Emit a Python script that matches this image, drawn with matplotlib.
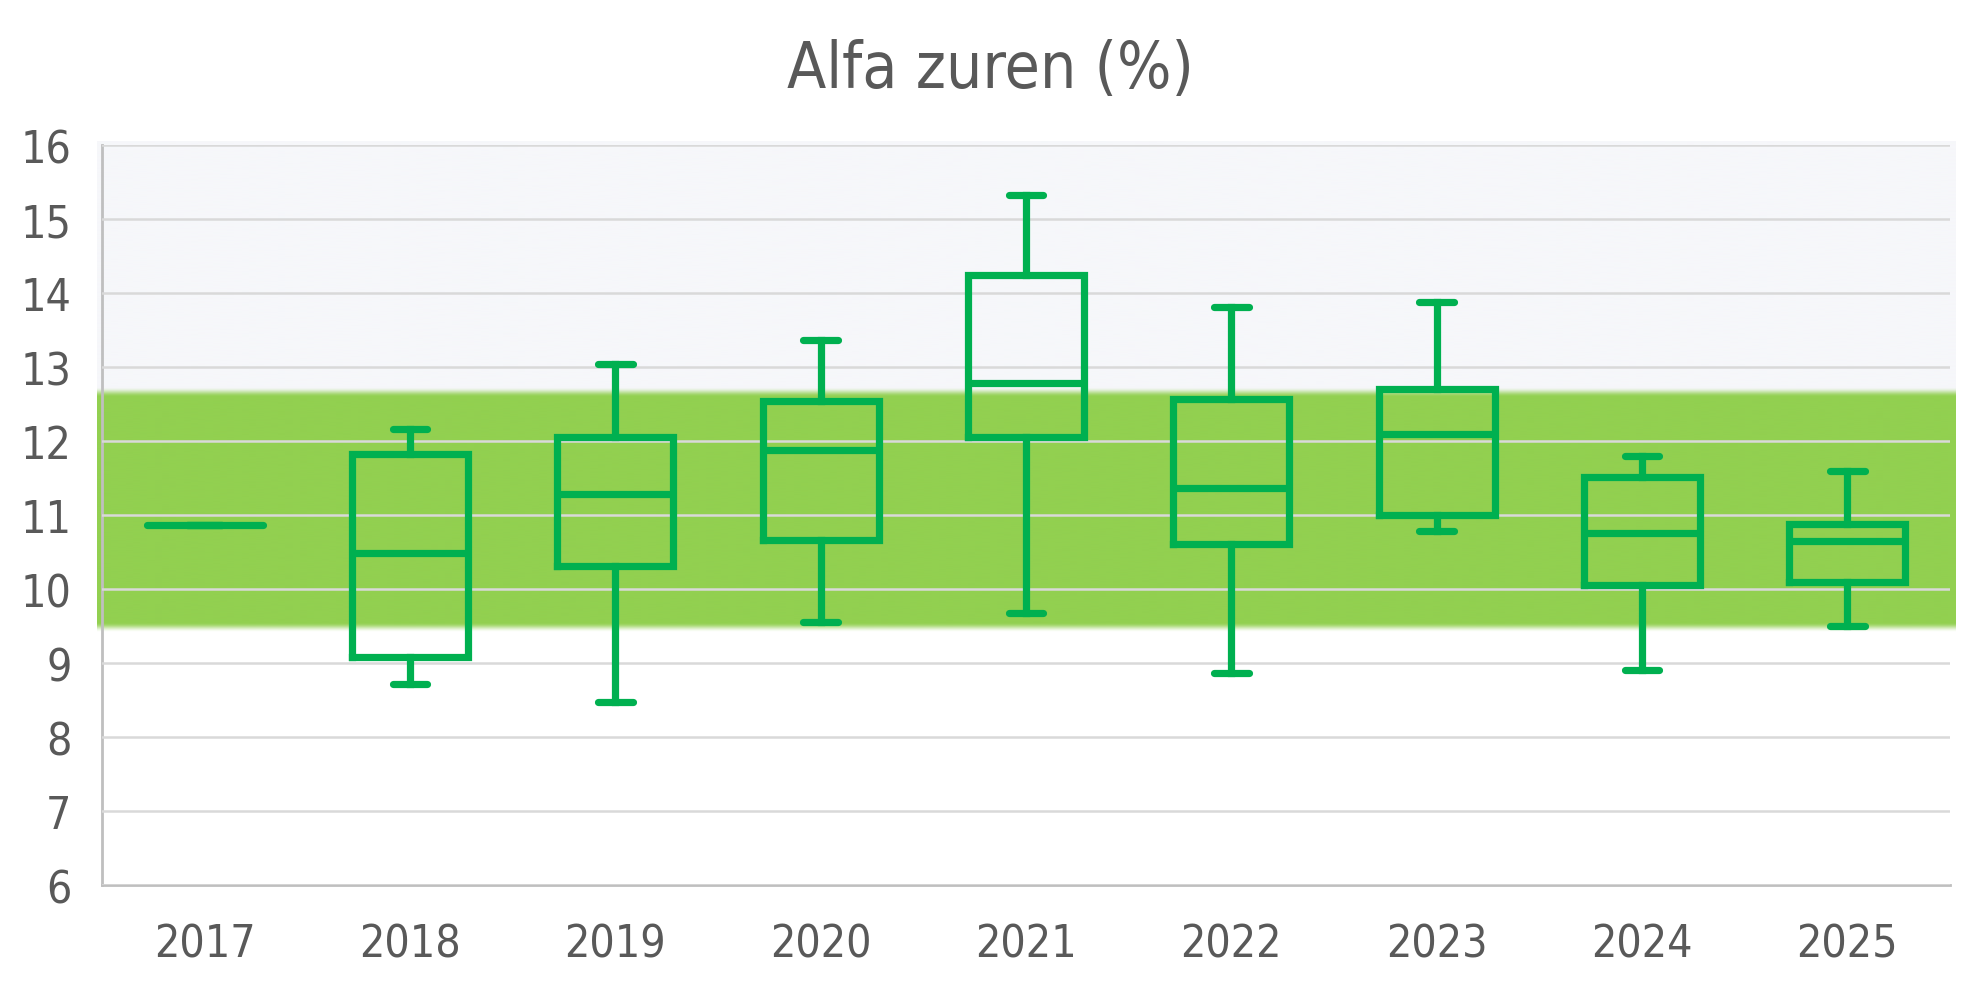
import numpy as np
import matplotlib
matplotlib.use("Agg")
import matplotlib.pyplot as plt
from matplotlib.colors import to_rgb

# ---- data ----
years = ["2017", "2018", "2019", "2020", "2021", "2022", "2023", "2024", "2025"]
whisker_low = [10.87, 8.71, 8.47, 9.56, 9.68, 8.86, 10.79, 8.91, 9.50]
q1 = [10.87, 9.08, 10.31, 10.66, 12.05, 10.61, 11.00, 10.06, 10.09]
median = [10.87, 10.49, 11.29, 11.88, 12.78, 11.37, 12.09, 10.76, 10.65]
q3 = [10.87, 11.82, 12.05, 12.54, 14.24, 12.57, 12.70, 11.51, 10.88]
whisker_high = [10.87, 12.16, 13.04, 13.36, 15.33, 13.81, 13.88, 11.80, 11.60]
band_low = 9.48
band_high = 12.66
y_ticks = [6, 7, 8, 9, 10, 11, 12, 13, 14, 15, 16]

BOX_GREEN = "#00B050"
BAND_GREEN = "#92D050"
TOP_FILL = "#F6F7FA"
TEXT = "#595959"
GRID = "#D9D9D9"
SPINE = "#BFBFBF"

fig = plt.figure(figsize=(19.81, 9.95), dpi=100)
ax = fig.add_axes([102 / 1981, 1 - 886 / 995, (1950 - 102) / 1981, (886 - 146) / 995])

# ---- background: light fill above the band, green band with soft edges ----
ys = np.linspace(6, 16.05, 3000)
fade = 0.13
def smooth(v):
    v = np.clip(v, 0, 1)
    return v * v * (3 - 2 * v)
in_top = smooth((ys - band_high) / fade + 0.5)
in_band = smooth((ys - band_low) / fade + 0.5) * (1 - in_top)
g = np.array(to_rgb(BAND_GREEN))
t = np.array(to_rgb(TOP_FILL))
rgba = np.zeros((len(ys), 1, 4))
col = in_band[:, None] * g + in_top[:, None] * t
alpha = in_band + in_top
rgba[:, 0, :3] = np.where(alpha[:, None] > 0, col / np.maximum(alpha[:, None], 1e-9), 1)
rgba[:, 0, 3] = alpha
px = 1.0 / 205.3
ax.imshow(rgba, extent=(-0.5 - 5 * px, len(years) - 0.5 + 5 * px, 6, 16.05),
          origin="lower", aspect="auto", interpolation="bilinear",
          zorder=0.1, clip_on=False)
ax.set_xlim(-0.5, len(years) - 0.5)
ax.set_ylim(6, 16)

# ---- grid & spines ----
ax.set_yticks(y_ticks)
ax.yaxis.grid(True, color=GRID, linewidth=1.8, zorder=0.5)
ax.xaxis.grid(False)
for s in ["top", "right"]:
    ax.spines[s].set_visible(False)
for s in ["left", "bottom"]:
    ax.spines[s].set_color(SPINE)
    ax.spines[s].set_linewidth(2.0)
    ax.spines[s].set_zorder(0.6)

# ---- boxes ----
stats = []
for i, y in enumerate(years):
    stats.append(dict(label=y, whislo=whisker_low[i], q1=q1[i], med=median[i],
                      q3=q3[i], whishi=whisker_high[i], fliers=[]))
lw = 5.2
parts = ax.bxp(stats, positions=list(range(len(years))), widths=0.565,
               capwidths=0.17, showfliers=False, patch_artist=False,
               boxprops=dict(color=BOX_GREEN, linewidth=lw, solid_joinstyle="miter"),
               medianprops=dict(color=BOX_GREEN, linewidth=lw, solid_capstyle="butt"),
               whiskerprops=dict(color=BOX_GREEN, linewidth=lw),
               capprops=dict(color=BOX_GREEN, linewidth=lw, solid_capstyle="round"),
               manage_ticks=False, zorder=3)
for ln in ax.lines:
    ln.set_zorder(3)
# years with a single value appear as one line with rounded ends
for i in range(len(years)):
    if q1[i] == q3[i]:
        parts["medians"][i].set_solid_capstyle("round")
        parts["boxes"][i].set_visible(False)

ax.set_xticks(range(len(years)))
ax.set_xticklabels(years)
ax.set_yticks(y_ticks)
ax.set_yticklabels([str(v) for v in y_ticks])

ax.tick_params(axis="both", length=0, colors=TEXT, labelsize=32)
ax.tick_params(axis="y", pad=22)
ax.tick_params(axis="x", pad=27)
for lab in ax.get_xticklabels() + ax.get_yticklabels():
    lab.set_fontfamily("DejaVu Sans")
    lab.set_fontstretch("condensed")
    lab.set_color(TEXT)

fig.text(0.5, 1 - 70 / 995, "Alfa zuren (%)", ha="center", va="center",
         fontsize=46, color=TEXT, family="DejaVu Sans", stretch="condensed")

fig.savefig("out.png", dpi=100, facecolor="white")
